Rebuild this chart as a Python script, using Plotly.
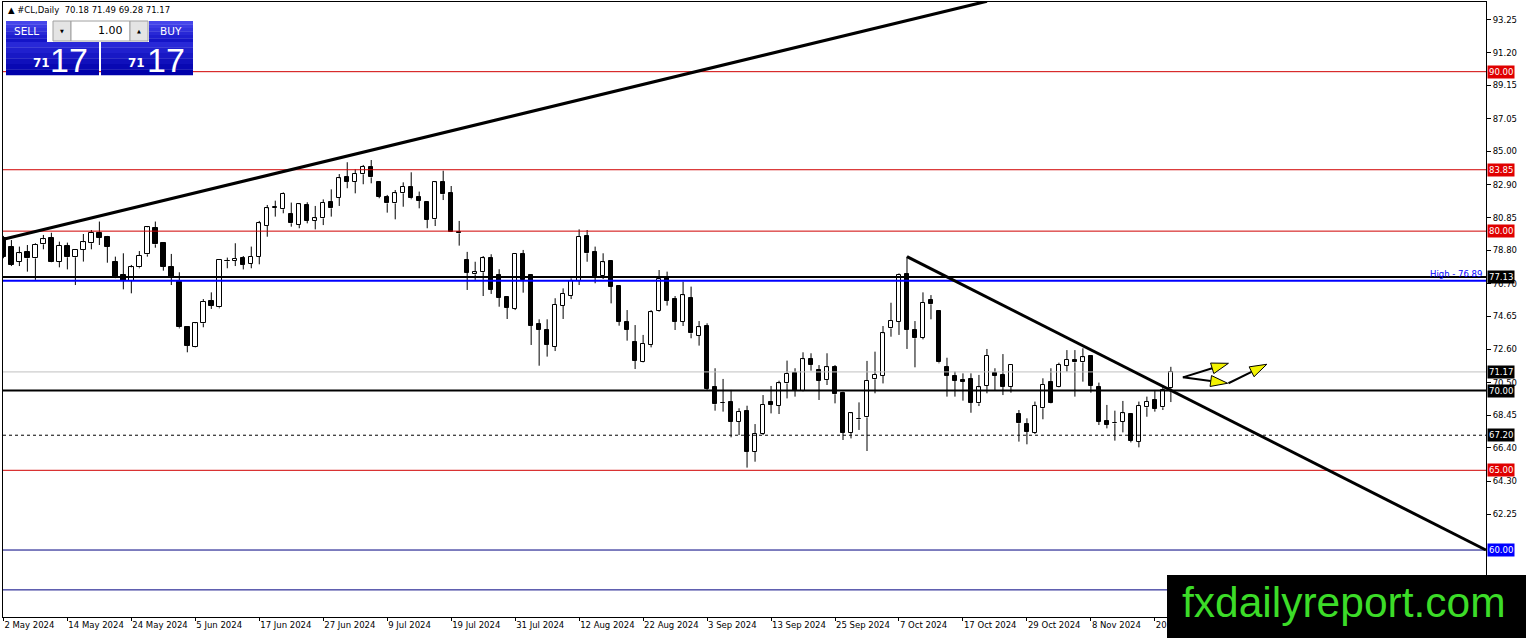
import plotly.graph_objects as go

# daily bars, index 0 = 2 May 2024, one bar per weekday
opens = [79.55, 78.98, 78.09, 78.67, 78.29, 79.17, 79.55, 78.09, 79.09, 78.36,
         78.82, 79.24, 79.86, 79.65, 78.04, 77.25, 76.90, 77.73, 78.55, 80.18,
         79.24, 77.77, 76.83, 73.97, 72.75, 74.22, 75.62, 75.22, 78.11, 78.15,
         78.29, 77.94, 78.40, 80.34, 81.45, 81.37, 81.08, 80.38, 81.64, 80.66,
         80.80, 81.83, 82.10, 83.37, 83.10, 83.56, 84.00, 83.06, 82.16, 81.74,
         82.37, 82.79, 82.12, 81.81, 80.74, 83.06, 82.37, 79.97, 78.19, 77.29,
         77.42, 78.30, 77.25, 75.85, 75.12, 78.57, 77.25, 74.18, 73.80, 72.75,
         75.33, 75.95, 76.89, 79.72, 78.67, 77.21, 78.13, 76.56, 74.32, 73.07,
         71.81, 72.86, 75.01, 77.14, 75.74, 74.32, 75.79, 73.44, 74.05, 70.20,
         69.25, 69.26, 68.05, 68.72, 66.17, 67.28, 69.26, 69.05, 70.45, 71.08,
         69.99, 71.98, 71.29, 70.66, 71.46, 69.83, 67.36, 68.22, 68.32, 70.71,
         70.94, 73.90, 74.32, 77.31, 73.80, 73.32, 75.68, 74.99, 71.46, 70.92,
         70.66, 70.73, 69.20, 70.29, 71.12, 70.98, 70.25, 68.53, 67.90, 67.36,
         68.89, 70.52, 70.20, 71.54, 71.92, 71.77, 72.17, 70.25, 68.09, 67.96,
         68.05, 68.53, 66.80, 68.95, 69.41, 68.95, 70.18]
highs = [79.70, 79.44, 79.03, 79.13, 79.24, 79.76, 79.90, 79.34, 79.28, 78.88,
         79.82, 80.07, 80.60, 79.70, 78.40, 78.61, 77.88, 78.75, 80.28, 80.60,
         79.28, 78.57, 77.42, 74.05, 74.26, 75.74, 76.16, 78.25, 78.34, 79.24,
         78.44, 79.03, 80.64, 81.64, 81.91, 82.43, 81.79, 81.74, 81.81, 81.58,
         81.99, 82.62, 83.58, 84.32, 83.88, 84.15, 84.46, 83.10, 82.27, 82.58,
         83.06, 83.69, 82.48, 81.85, 83.10, 83.79, 82.83, 80.64, 78.70, 78.08,
         78.44, 78.55, 77.61, 75.93, 78.61, 78.82, 77.25, 74.47, 74.47, 75.79,
         76.41, 77.04, 80.11, 80.07, 79.03, 78.61, 78.13, 76.56, 75.05, 74.11,
         73.49, 75.05, 77.56, 77.46, 75.93, 76.83, 76.52, 74.36, 74.22, 71.40,
         70.73, 70.04, 68.89, 69.05, 67.90, 69.72, 70.29, 70.62, 71.88, 71.40,
         72.40, 72.34, 71.60, 72.34, 71.60, 69.93, 68.61, 69.26, 71.86, 72.44,
         74.05, 75.51, 77.35, 78.40, 74.36, 76.16, 75.99, 74.99, 72.06, 71.19,
         71.08, 71.08, 70.98, 72.61, 71.40, 72.29, 71.60, 68.78, 68.26, 69.31,
         70.77, 71.40, 71.75, 72.54, 72.54, 72.65, 72.17, 70.50, 69.10, 68.74,
         69.35, 68.57, 69.31, 69.62, 70.04, 70.35, 71.49]
lows = [78.30, 77.81, 77.81, 77.46, 76.94, 78.86, 78.05, 77.73, 77.60, 76.62,
        78.09, 78.86, 79.13, 78.02, 77.05, 76.35, 76.10, 77.67, 78.40, 78.96,
        77.52, 76.62, 73.90, 72.40, 72.71, 73.97, 75.12, 75.16, 77.67, 77.81,
        77.60, 77.67, 77.92, 79.65, 80.91, 81.12, 80.28, 80.18, 80.49, 80.11,
        80.38, 80.91, 81.58, 82.69, 82.37, 82.94, 83.00, 82.06, 81.16, 80.74,
        81.53, 82.00, 81.43, 80.18, 80.32, 81.95, 79.95, 79.09, 76.31, 76.94,
        75.93, 76.06, 75.26, 74.49, 75.05, 76.14, 72.86, 71.56, 72.13, 72.48,
        74.49, 75.74, 76.62, 78.08, 76.73, 77.00, 75.47, 74.07, 73.13, 71.35,
        71.77, 72.71, 74.95, 75.33, 73.80, 74.05, 73.28, 72.82, 70.04, 68.74,
        68.68, 67.07, 67.21, 65.17, 65.54, 67.21, 68.57, 68.53, 69.51, 69.62,
        69.95, 71.25, 69.41, 70.35, 69.20, 66.90, 67.00, 67.53, 66.21, 69.83,
        70.45, 73.38, 73.49, 72.61, 71.46, 73.21, 74.47, 71.71, 69.62, 69.62,
        69.37, 68.61, 69.03, 69.83, 70.04, 69.72, 69.87, 66.80, 66.63, 67.28,
        68.20, 69.20, 70.18, 71.19, 69.62, 70.56, 69.87, 67.84, 67.63, 66.86,
        67.38, 66.75, 66.44, 68.36, 68.68, 68.78, 69.28]
closes = [78.40, 77.88, 78.61, 78.29, 79.13, 79.49, 78.09, 79.09, 78.36, 78.82,
          79.30, 79.90, 79.59, 79.03, 77.10, 76.90, 77.73, 78.46, 80.24, 79.17,
          77.77, 77.10, 73.97, 72.82, 74.22, 75.58, 75.33, 78.19, 78.15, 78.25,
          77.88, 78.40, 80.49, 81.43, 81.49, 82.33, 80.49, 81.68, 80.66, 80.80,
          81.79, 81.43, 83.31, 83.10, 83.58, 84.04, 83.37, 82.16, 81.74, 82.37,
          82.79, 82.06, 81.91, 80.70, 83.06, 82.31, 79.97, 79.86, 77.40, 77.42,
          78.30, 76.31, 75.83, 75.20, 78.57, 76.94, 74.07, 73.80, 72.86, 75.37,
          76.06, 76.89, 79.65, 78.61, 77.14, 78.04, 76.52, 74.32, 73.80, 71.88,
          72.92, 74.91, 77.00, 75.64, 74.32, 75.97, 73.59, 73.97, 70.10, 69.14,
          69.22, 68.05, 68.68, 66.17, 67.28, 69.10, 69.10, 70.45, 71.04, 69.99,
          71.96, 71.60, 70.62, 71.46, 69.77, 67.36, 68.57, 68.20, 70.62, 70.98,
          73.59, 74.36, 77.25, 73.80, 73.28, 75.51, 75.41, 71.77, 70.93, 70.62,
          70.56, 69.24, 70.20, 72.17, 70.93, 70.25, 71.60, 67.95, 67.42, 69.03,
          70.35, 69.24, 71.60, 71.92, 71.77, 72.08, 70.29, 68.05, 67.84, 67.94,
          68.57, 66.86, 69.03, 69.31, 68.84, 70.04, 71.17]

date_labels = ["2 May 2024", "14 May 2024", "24 May 2024", "5 Jun 2024", "17 Jun 2024",
               "27 Jun 2024", "9 Jul 2024", "19 Jul 2024", "31 Jul 2024", "12 Aug 2024",
               "22 Aug 2024", "3 Sep 2024", "13 Sep 2024", "25 Sep 2024", "7 Oct 2024",
               "17 Oct 2024", "29 Oct 2024", "8 Nov 2024", "20 Nov 2024"]
price_ticks = [93.25, 91.20, 89.15, 87.05, 85.00, 82.90, 80.85, 78.80, 76.70,
               74.65, 72.60, 70.50, 68.45, 66.40, 64.30, 62.25]

red_levels = [90.00, 83.85, 80.00, 65.00]
black_levels = [77.13, 70.00]
high_level = 76.89
dashed_level = 67.20
bid_level = 71.17
navy_levels = [60.00, 57.50]

# trend lines (bar index, price)
up_k, up_p = [0, 123.0], [79.49, 94.42]
down_k, down_p = [113.0, 185.4], [78.40, 60.00]

# yellow arrows: start -> tip
arrow_from = [(147.5, 70.83), (147.5, 70.83), (153.2, 70.46)]
arrow_to = [(153.2, 71.71), (153.1, 70.46), (158.0, 71.65)]

W, H = 1526, 638
ML, MR, MT, MB = 3, 40, 2, 21
PW, PH = W - ML - MR, H - MT - MB
X0, X1 = -0.05, 185.41
Y0, Y1 = 55.80, 94.37
FONT = "DejaVu Sans"


def px(x):
    return (x - ML) / PW


def py(y):
    return 1 - (y - MT) / PH


n = len(closes)
xs = list(range(n))

bull_x, bull_b, bull_h, bear_x, bear_b, bear_h = [], [], [], [], [], []
wx, wy = [], []
for i in xs:
    lo_b, hi_b = min(opens[i], closes[i]), max(opens[i], closes[i])
    if closes[i] >= opens[i]:
        bull_x.append(i); bull_b.append(lo_b); bull_h.append(max(hi_b - lo_b, 0.02))
    else:
        bear_x.append(i); bear_b.append(lo_b); bear_h.append(max(hi_b - lo_b, 0.02))
    wx += [i, i, None, i, i, None]
    wy += [highs[i], hi_b, None, lo_b, lows[i], None]

fig = go.Figure()
fig.add_trace(go.Scatter(x=wx, y=wy, mode="lines", line=dict(color="black", width=1),
                         hoverinfo="skip", showlegend=False))
fig.add_trace(go.Bar(x=bull_x, y=bull_h, base=bull_b, width=0.55,
                     marker=dict(color="white", line=dict(color="black", width=1)),
                     showlegend=False))
fig.add_trace(go.Bar(x=bear_x, y=bear_h, base=bear_b, width=0.55,
                     marker=dict(color="black", line=dict(color="black", width=1)),
                     showlegend=False))

shapes = []
annos = []


def hline(level, color, width=1, dash="solid"):
    shapes.append(dict(type="line", xref="paper", yref="y", x0=0, x1=1, y0=level, y1=level,
                       line=dict(color=color, width=width, dash=dash), layer="above"))


def price_box(level, bg):
    annos.append(dict(x=1, xref="paper", y=level, yref="y", xanchor="left", xshift=1,
                      text=f"{level:.2f}", showarrow=False, bgcolor=bg, borderpad=1,
                      font=dict(family=FONT, size=8.5, color="white")))


for lv in red_levels:
    hline(lv, "#d00000")
    price_box(lv, "#e00000")
hline(bid_level, "#c0c0c0")
price_box(bid_level, "black")
hline(dashed_level, "black", 1, "3px,3px")
price_box(dashed_level, "black")
for lv in navy_levels:
    hline(lv, "#000080")
price_box(navy_levels[0], "#0000ff")
hline(high_level, "#0000ff", 2)
for lv in black_levels:
    hline(lv, "black", 2)
    price_box(lv, "black")
annos.append(dict(x=1, xref="paper", y=high_level, yref="y", xanchor="right", yanchor="bottom",
                  xshift=-2, yshift=0, text="High - 76.89", showarrow=False,
                  font=dict(family=FONT, size=8.5, color="#0000ff")))

shapes.append(dict(type="line", xref="x", yref="y", x0=up_k[0], x1=up_k[1], y0=up_p[0],
                   y1=up_p[1], line=dict(color="black", width=3), layer="above"))
shapes.append(dict(type="line", xref="x", yref="y", x0=down_k[0], x1=down_k[1], y0=down_p[0],
                   y1=down_p[1], line=dict(color="black", width=3), layer="above"))


# arrows: shaft + yellow head
def to_pix(k, p):
    return ML + (k - X0) / (X1 - X0) * PW, MT + (Y1 - p) / (Y1 - Y0) * PH


def to_data(x, y):
    return X0 + (x - ML) / PW * (X1 - X0), Y1 - (y - MT) / PH * (Y1 - Y0)


for (k0, p0), (k1, p1) in zip(arrow_from, arrow_to):
    ax0, ay0 = to_pix(k0, p0)
    ax1, ay1 = to_pix(k1, p1)
    dx, dy = ax1 - ax0, ay1 - ay0
    ln = (dx * dx + dy * dy) ** 0.5
    ux, uy = dx / ln, dy / ln
    bx, by = ax1 - ux * 17, ay1 - uy * 17
    c1 = to_data(bx - uy * 5.5, by + ux * 5.5)
    c2 = to_data(bx + uy * 5.5, by - ux * 5.5)
    bk, bp = to_data(bx, by)
    shapes.append(dict(type="line", xref="x", yref="y", x0=k0, y0=p0, x1=bk, y1=bp,
                       line=dict(color="black", width=2), layer="above"))
    path = f"M {c1[0]} {c1[1]} L {k1} {p1} L {c2[0]} {c2[1]} Z"
    shapes.append(dict(type="path", xref="x", yref="y", path=path, fillcolor="#f2f200",
                       line=dict(color="black", width=1), layer="above"))


# one-click trading panel
def rect(x0, y0, x1, y1, fill, line=None):
    shapes.append(dict(type="rect", xref="paper", yref="paper", x0=px(x0), x1=px(x1),
                       y0=py(y1), y1=py(y0), fillcolor=fill,
                       line=dict(width=1 if line else 0, color=line or fill), layer="above"))


def label(x, y, text, size, color="white", anchor="center", family=FONT):
    annos.append(dict(x=px(x), y=py(y), xref="paper", yref="paper", text=text,
                      showarrow=False, xanchor=anchor, yanchor="middle",
                      font=dict(family=family, size=size, color=color)))


def blue_box(x0, y0, x1, y1, top, bottom):
    steps = 6
    h = (y1 - y0) / steps
    for s in range(steps):
        t = s / (steps - 1)
        c = tuple(int(top[j] + (bottom[j] - top[j]) * t) for j in range(3))
        rect(x0, y0 + s * h, x1, y0 + (s + 1) * h + 0.3, "rgb(%d,%d,%d)" % c)


blue_box(6, 21, 47, 42, (70, 70, 235), (20, 20, 200))
blue_box(149, 21, 193, 42, (70, 70, 235), (20, 20, 200))
blue_box(6, 42, 99, 75, (40, 40, 215), (0, 0, 170))
blue_box(101, 42, 193, 75, (40, 40, 215), (0, 0, 170))
rect(53, 21, 71, 41, "#e4e4e4", "#a0a0a0")
rect(71, 21, 130, 41, "white", "#a0a0a0")
rect(130, 21, 148, 41, "#e4e4e4", "#a0a0a0")
label(26.5, 31, "SELL", 10.5)
label(171, 31, "BUY", 10.5)
label(62, 31, "▼", 5, "black")
label(139, 31, "▲", 5, "black")
label(125, 31, "1.00", 11, "black", "right")
label(41.5, 63, "<b>71</b>", 12)
label(69, 60, "17", 34, family="Liberation Sans")
label(136.5, 63, "<b>71</b>", 12)
label(166, 60, "17", 34, family="Liberation Sans")
label(6, 10, "▲ #CL,Daily  70.18 71.49 69.28 71.17", 8.5, "black", "left")

# watermark
rect(1167, 575, 1530, 640, "black")
label(1344, 602, "fxdailyreport.com", 42.5, "#3cdc28", family="Liberation Sans")

fig.update_layout(
    width=W, height=H,
    margin=dict(l=ML, r=MR, t=MT, b=MB, autoexpand=False),
    paper_bgcolor="white", plot_bgcolor="white",
    bargap=0, showlegend=False,
    shapes=shapes, annotations=annos,
    xaxis=dict(range=[X0, X1], showgrid=False, zeroline=False, automargin=False,
               tickvals=[8 * i for i in range(len(date_labels))], ticktext=date_labels,
               ticks="outside", ticklen=3, tickcolor="black", tickangle=0,
               ticklabelposition="outside right",
               tickfont=dict(family=FONT, size=8.5, color="black"),
               showline=True, mirror=True, linecolor="black", linewidth=1),
    yaxis=dict(range=[Y0, Y1], side="right", showgrid=False, zeroline=False, automargin=False,
               tickvals=price_ticks, ticktext=[f"{v:.2f}" for v in price_ticks],
               ticks="outside", ticklen=4, tickcolor="black",
               tickfont=dict(family=FONT, size=8.5, color="black"),
               showline=True, mirror=True, linecolor="black", linewidth=1),
)

# page body has a default 8px margin; drop it so the figure sits at the window corner
fig.write_html("out.html", config={"displayModeBar": False},
               post_script="document.body.style.margin='0';document.body.style.overflow='hidden';")
